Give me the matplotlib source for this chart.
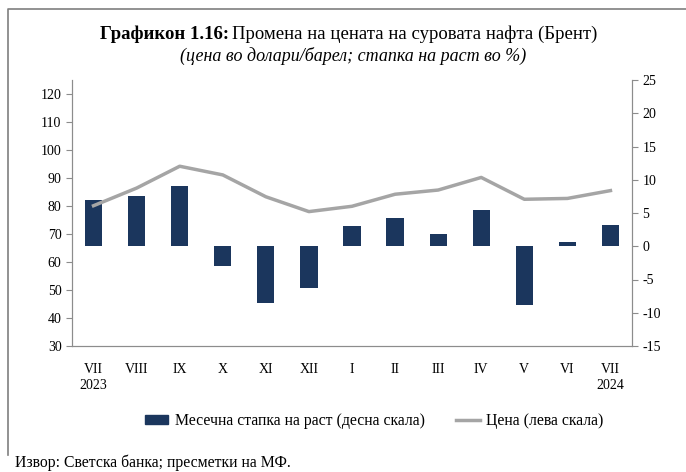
import numpy as np
import matplotlib.pyplot as plt
from matplotlib.lines import Line2D
from matplotlib.patches import Patch

plt.rcParams['font.family'] = ['Liberation Serif', 'DejaVu Serif']
plt.rcParams['axes.unicode_minus'] = False

months = ["VII", "VIII", "IX", "X", "XI", "XII", "I", "II", "III", "IV", "V", "VI", "VII"]
growth = [7.0, 7.6, 9.1, -3.0, -8.6, -6.3, 3.1, 4.3, 1.9, 5.5, -8.9, 0.7, 3.2]
price = [80.1, 86.4, 94.2, 91.1, 83.3, 78.0, 79.9, 84.2, 85.7, 90.2, 82.4, 82.7, 85.5]

bar_color = "#1b365d"
line_color = "#a5a5a5"
axis_color = "#8c8c8c"

fig = plt.figure(figsize=(6.86, 4.72), dpi=100)
axb = fig.add_axes([72 / 686, 1 - 346 / 472, (632 - 72) / 686, (346 - 80) / 472])
x = np.arange(len(months))

axb.bar(x, growth, width=0.4, color=bar_color)
axb.set_ylim(-15, 25)
axb.set_yticks(np.arange(-15, 26, 5))

axl = axb.twinx()
axl.plot(x, price, color=line_color, lw=2.5)
axl.set_ylim(30, 125)
axl.set_yticks(np.arange(30, 121, 10))
axl.yaxis.tick_left()
axl.yaxis.set_label_position("left")
axb.yaxis.tick_right()
axb.yaxis.set_label_position("right")

for a in (axb, axl):
    a.set_xlim(-0.5, len(months) - 0.5)
    a.spines["top"].set_visible(False)
    for s in ("left", "right", "bottom"):
        a.spines[s].set_color(axis_color)
    a.tick_params(axis="y", colors=axis_color, labelcolor="black", labelsize=10, length=4)
    a.patch.set_visible(False)

axb.set_xticks(np.arange(-0.5, len(months), 1))
axb.set_xticklabels([])
axb.set_xticks(x, minor=True)
axb.set_xticklabels(months, minor=True)
axb.tick_params(axis="x", which="major", colors=axis_color, length=4)
axb.tick_params(axis="x", which="minor", length=0, labelsize=10, pad=12)
axl.set_xticks([])

# year labels under first and last month
axb.text(0, -0.147, "2023", transform=axb.get_xaxis_transform(), ha="center", va="center", fontsize=10)
axb.text(len(months) - 1, -0.147, "2024", transform=axb.get_xaxis_transform(), ha="center", va="center", fontsize=10)

# title
fig.text(229 / 686, 1 - 34 / 472, "Графикон 1.16:", ha="right", va="center", fontsize=13.5, fontweight="bold")
fig.text(232 / 686, 1 - 34 / 472, "Промена на цената на суровата нафта (Брент)", ha="left", va="center", fontsize=13.5)
fig.text(353 / 686, 1 - 56 / 472, "(цена во долари/барел; стапка на раст во %)", ha="center", va="center",
         fontsize=13, style="italic")

handles = [Patch(color=bar_color), Line2D([], [], color=line_color, lw=2.5)]
fig.legend(handles, ["Месечна стапка на раст (десна скала)", "Цена (лева скала)"],
           loc="center", bbox_to_anchor=(374 / 686, 1 - 421 / 472), ncol=2, frameon=False,
           fontsize=11.3, handlelength=1.5, handleheight=0.5, handletextpad=0.4, columnspacing=2.0)

fig.text(15 / 686, 1 - 463 / 472, "Извор: Светска банка; пресметки на МФ.", ha="left", va="center", fontsize=11.3)

# frame lines around the chart
fig.add_artist(Line2D([8 / 686, 8 / 686, 1], [1 - 455 / 472, 1 - 9 / 472, 1 - 9 / 472],
                      color="#7f7f7f", lw=1.2, transform=fig.transFigure))

fig.savefig("out.png", dpi=100)
